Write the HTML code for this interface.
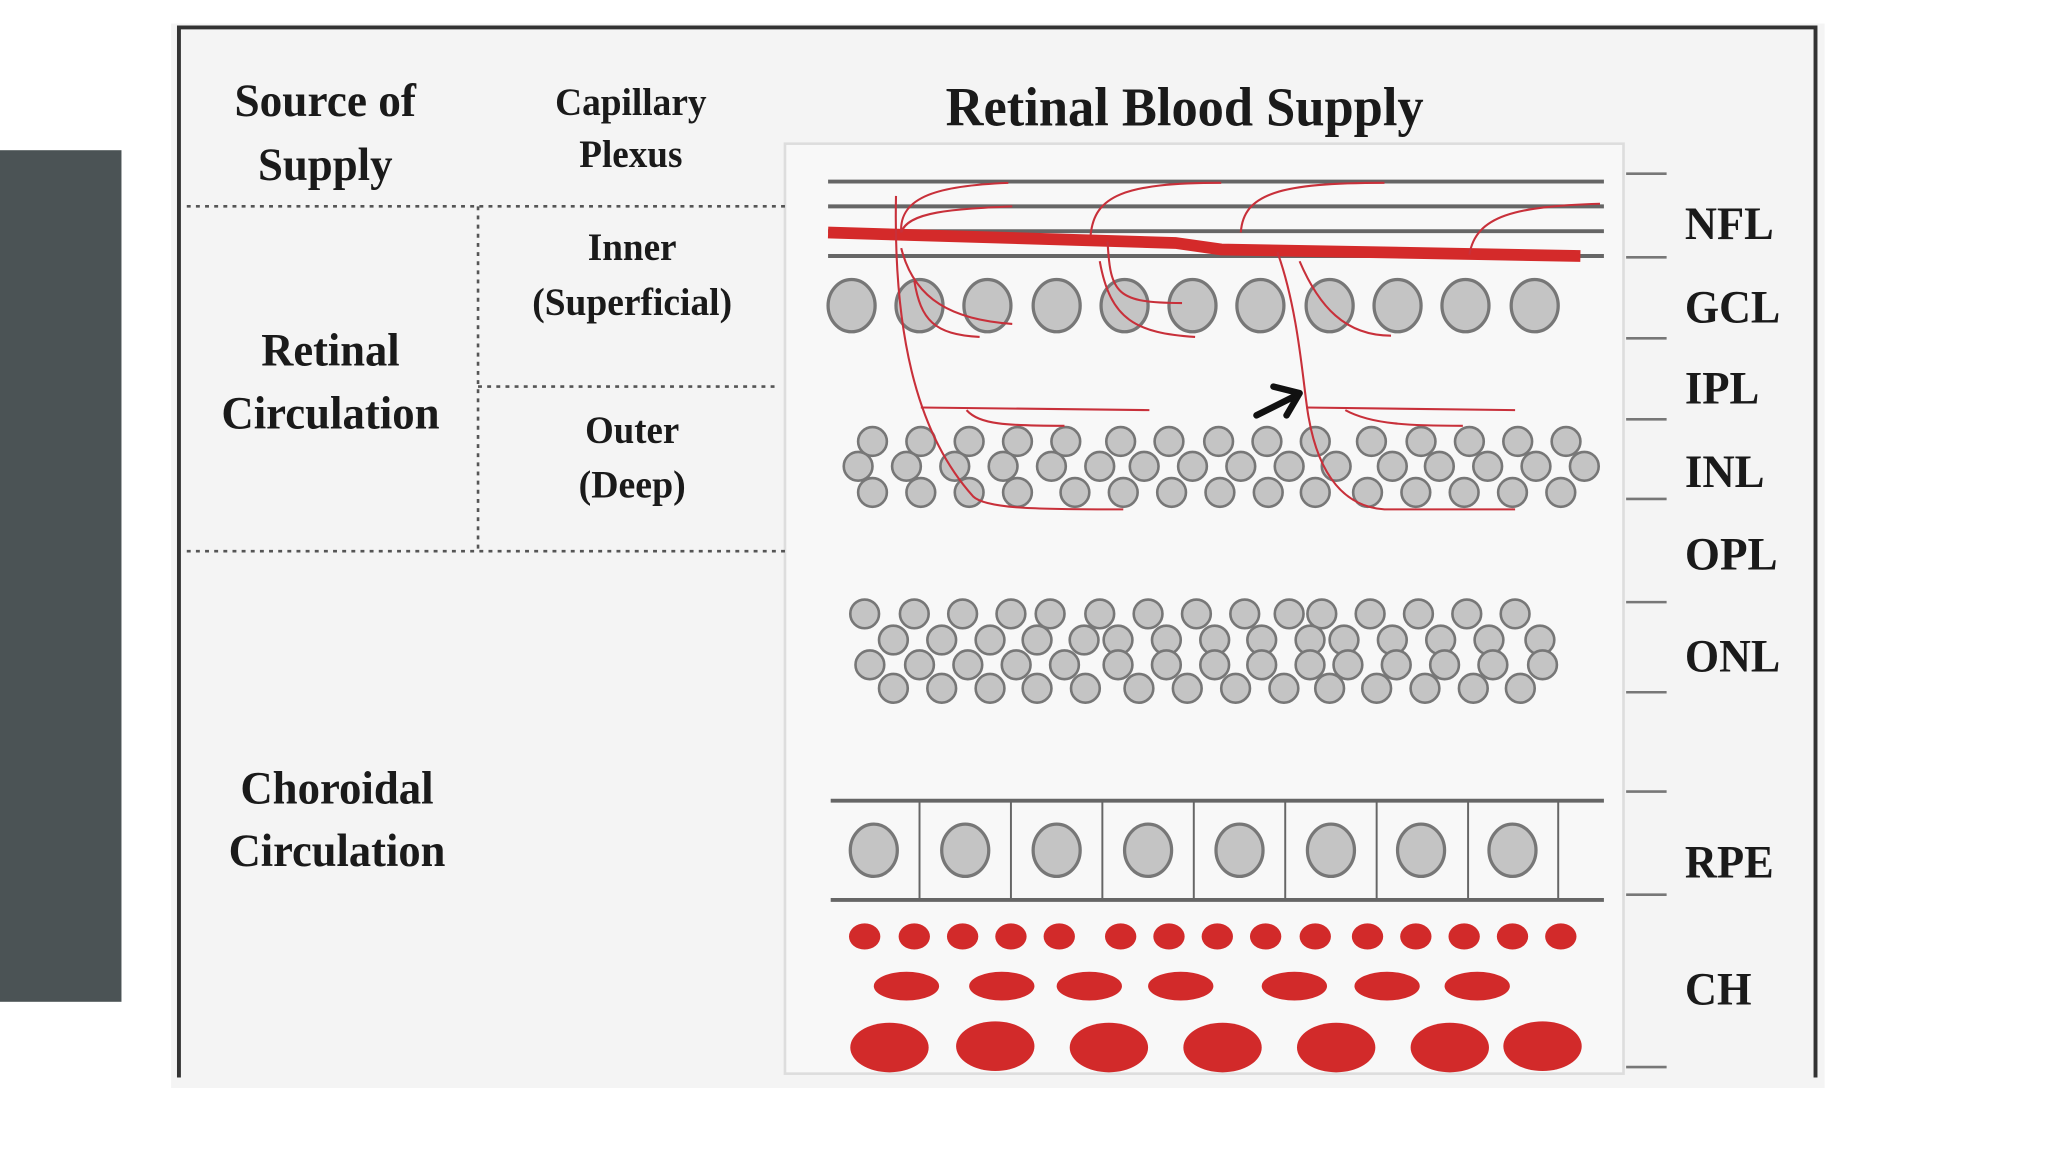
<!DOCTYPE html>
<html><head><meta charset="utf-8"><style>
html,body{margin:0;padding:0;background:#fff;width:2048px;height:1152px;overflow:hidden}
svg{display:block}
text{font-family:"Liberation Serif",serif;font-weight:bold;fill:#1a1a1a}
</style></head><body>
<svg width="2048" height="1152" viewBox="0 0 1568 882" preserveAspectRatio="none">
<rect x="0" y="0" width="1568" height="882" fill="#fff"/>
<rect x="0" y="115" width="93" height="652" fill="#4b5355"/>
<rect x="131" y="18" width="1266" height="815" fill="#f4f4f4"/>
<path d="M137,825 L137,21 L1390,21 L1390,825" fill="none" stroke="#333" stroke-width="3"/>
<rect x="601" y="110" width="642" height="712" fill="#f8f8f8" stroke="#ddd" stroke-width="2"/>
<g stroke="#555" stroke-width="2" stroke-dasharray="3,4" fill="none">
<line x1="143" y1="158" x2="601" y2="158"/><line x1="366" y1="158" x2="366" y2="422"/>
<line x1="366" y1="296" x2="597" y2="296"/><line x1="143" y1="422" x2="601" y2="422"/>
</g>
<g text-anchor="middle" font-size="36">
<text x="249" y="89" textLength="139" lengthAdjust="spacingAndGlyphs">Source of</text>
<text x="249" y="138" textLength="103" lengthAdjust="spacingAndGlyphs">Supply</text>
<text x="253" y="280" textLength="106" lengthAdjust="spacingAndGlyphs">Retinal</text>
<text x="253" y="328" textLength="167" lengthAdjust="spacingAndGlyphs">Circulation</text>
<text x="258" y="615" textLength="148" lengthAdjust="spacingAndGlyphs">Choroidal</text>
<text x="258" y="663" textLength="166" lengthAdjust="spacingAndGlyphs">Circulation</text>
</g>
<g text-anchor="middle" font-size="30">
<text x="483" y="88" textLength="116" lengthAdjust="spacingAndGlyphs">Capillary</text>
<text x="483" y="128" textLength="79" lengthAdjust="spacingAndGlyphs">Plexus</text>
<text x="484" y="199" textLength="68" lengthAdjust="spacingAndGlyphs">Inner</text>
<text x="484" y="241" textLength="153" lengthAdjust="spacingAndGlyphs">(Superficial)</text>
<text x="484" y="339" textLength="72" lengthAdjust="spacingAndGlyphs">Outer</text>
<text x="484" y="381" textLength="82" lengthAdjust="spacingAndGlyphs">(Deep)</text>
</g>
<text x="907" y="96" text-anchor="middle" font-size="42" textLength="366" lengthAdjust="spacingAndGlyphs">Retinal Blood Supply</text>
<g font-size="36">
<text x="1290" y="183" textLength="68" lengthAdjust="spacingAndGlyphs">NFL</text>
<text x="1290" y="247" textLength="73" lengthAdjust="spacingAndGlyphs">GCL</text>
<text x="1290" y="309" textLength="57" lengthAdjust="spacingAndGlyphs">IPL</text>
<text x="1290" y="373" textLength="61" lengthAdjust="spacingAndGlyphs">INL</text>
<text x="1290" y="436" textLength="71" lengthAdjust="spacingAndGlyphs">OPL</text>
<text x="1290" y="514" textLength="73" lengthAdjust="spacingAndGlyphs">ONL</text>
<text x="1290" y="672" textLength="68" lengthAdjust="spacingAndGlyphs">RPE</text>
<text x="1290" y="769" textLength="51" lengthAdjust="spacingAndGlyphs">CH</text>
</g>
<g stroke="#777" stroke-width="2">
<line x1="1245" y1="133" x2="1276" y2="133"/><line x1="1245" y1="197" x2="1276" y2="197"/>
<line x1="1245" y1="259" x2="1276" y2="259"/><line x1="1245" y1="321" x2="1276" y2="321"/>
<line x1="1245" y1="382" x2="1276" y2="382"/><line x1="1245" y1="461" x2="1276" y2="461"/>
<line x1="1245" y1="530" x2="1276" y2="530"/><line x1="1245" y1="606" x2="1276" y2="606"/>
<line x1="1245" y1="685" x2="1276" y2="685"/><line x1="1245" y1="817" x2="1276" y2="817"/>
</g>
<g stroke="#666" stroke-width="3">
<line x1="634" y1="139" x2="1228" y2="139"/><line x1="634" y1="158" x2="1228" y2="158"/>
<line x1="634" y1="177" x2="1228" y2="177"/><line x1="634" y1="196" x2="1228" y2="196"/>
</g>
<path d="M634,178 L900,186 L935,191 L1210,196" fill="none" stroke="#d42a2a" stroke-width="9"/>
<g fill="#c4c4c4" stroke="#777" stroke-width="2.5">
<ellipse cx="652" cy="234" rx="18" ry="20"/><ellipse cx="704" cy="234" rx="18" ry="20"/><ellipse cx="756" cy="234" rx="18" ry="20"/><ellipse cx="809" cy="234" rx="18" ry="20"/><ellipse cx="861" cy="234" rx="18" ry="20"/><ellipse cx="913" cy="234" rx="18" ry="20"/><ellipse cx="965" cy="234" rx="18" ry="20"/><ellipse cx="1018" cy="234" rx="18" ry="20"/><ellipse cx="1070" cy="234" rx="18" ry="20"/><ellipse cx="1122" cy="234" rx="18" ry="20"/><ellipse cx="1175" cy="234" rx="18" ry="20"/>
</g>
<g fill="#c4c4c4" stroke="#777" stroke-width="2">
<circle cx="668" cy="338" r="11"/><circle cx="705" cy="338" r="11"/><circle cx="742" cy="338" r="11"/><circle cx="779" cy="338" r="11"/><circle cx="816" cy="338" r="11"/><circle cx="858" cy="338" r="11"/><circle cx="895" cy="338" r="11"/><circle cx="933" cy="338" r="11"/><circle cx="970" cy="338" r="11"/><circle cx="1007" cy="338" r="11"/><circle cx="1050" cy="338" r="11"/><circle cx="1088" cy="338" r="11"/><circle cx="1125" cy="338" r="11"/><circle cx="1162" cy="338" r="11"/><circle cx="1199" cy="338" r="11"/>
<circle cx="657" cy="357" r="11"/><circle cx="694" cy="357" r="11"/><circle cx="731" cy="357" r="11"/><circle cx="768" cy="357" r="11"/><circle cx="805" cy="357" r="11"/><circle cx="842" cy="357" r="11"/><circle cx="876" cy="357" r="11"/><circle cx="913" cy="357" r="11"/><circle cx="950" cy="357" r="11"/><circle cx="987" cy="357" r="11"/><circle cx="1023" cy="357" r="11"/><circle cx="1066" cy="357" r="11"/><circle cx="1102" cy="357" r="11"/><circle cx="1139" cy="357" r="11"/><circle cx="1176" cy="357" r="11"/><circle cx="1213" cy="357" r="11"/>
<circle cx="668" cy="377" r="11"/><circle cx="705" cy="377" r="11"/><circle cx="742" cy="377" r="11"/><circle cx="779" cy="377" r="11"/><circle cx="823" cy="377" r="11"/><circle cx="860" cy="377" r="11"/><circle cx="897" cy="377" r="11"/><circle cx="934" cy="377" r="11"/><circle cx="971" cy="377" r="11"/><circle cx="1007" cy="377" r="11"/><circle cx="1047" cy="377" r="11"/><circle cx="1084" cy="377" r="11"/><circle cx="1121" cy="377" r="11"/><circle cx="1158" cy="377" r="11"/><circle cx="1195" cy="377" r="11"/>
<circle cx="662" cy="470" r="11"/><circle cx="700" cy="470" r="11"/><circle cx="737" cy="470" r="11"/><circle cx="774" cy="470" r="11"/><circle cx="804" cy="470" r="11"/><circle cx="842" cy="470" r="11"/><circle cx="879" cy="470" r="11"/><circle cx="916" cy="470" r="11"/><circle cx="953" cy="470" r="11"/><circle cx="987" cy="470" r="11"/><circle cx="1012" cy="470" r="11"/><circle cx="1049" cy="470" r="11"/><circle cx="1086" cy="470" r="11"/><circle cx="1123" cy="470" r="11"/><circle cx="1160" cy="470" r="11"/>
<circle cx="684" cy="490" r="11"/><circle cx="721" cy="490" r="11"/><circle cx="758" cy="490" r="11"/><circle cx="794" cy="490" r="11"/><circle cx="830" cy="490" r="11"/><circle cx="856" cy="490" r="11"/><circle cx="893" cy="490" r="11"/><circle cx="930" cy="490" r="11"/><circle cx="966" cy="490" r="11"/><circle cx="1003" cy="490" r="11"/><circle cx="1029" cy="490" r="11"/><circle cx="1066" cy="490" r="11"/><circle cx="1103" cy="490" r="11"/><circle cx="1140" cy="490" r="11"/><circle cx="1179" cy="490" r="11"/>
<circle cx="666" cy="509" r="11"/><circle cx="704" cy="509" r="11"/><circle cx="741" cy="509" r="11"/><circle cx="778" cy="509" r="11"/><circle cx="815" cy="509" r="11"/><circle cx="856" cy="509" r="11"/><circle cx="893" cy="509" r="11"/><circle cx="930" cy="509" r="11"/><circle cx="966" cy="509" r="11"/><circle cx="1003" cy="509" r="11"/><circle cx="1032" cy="509" r="11"/><circle cx="1069" cy="509" r="11"/><circle cx="1106" cy="509" r="11"/><circle cx="1143" cy="509" r="11"/><circle cx="1181" cy="509" r="11"/>
<circle cx="684" cy="527" r="11"/><circle cx="721" cy="527" r="11"/><circle cx="758" cy="527" r="11"/><circle cx="794" cy="527" r="11"/><circle cx="831" cy="527" r="11"/><circle cx="872" cy="527" r="11"/><circle cx="909" cy="527" r="11"/><circle cx="946" cy="527" r="11"/><circle cx="983" cy="527" r="11"/><circle cx="1018" cy="527" r="11"/><circle cx="1054" cy="527" r="11"/><circle cx="1091" cy="527" r="11"/><circle cx="1128" cy="527" r="11"/><circle cx="1164" cy="527" r="11"/>
</g>
<g fill="none" stroke="#c8303a" stroke-width="1.6">
<path d="M690,178 C688,150 720,142 772,140"/>
<path d="M690,178 C695,162 730,160 775,158"/>
<path d="M686,150 C684,250 700,330 745,380 C755,390 800,390 860,390"/>
<path d="M690,190 C700,230 730,245 775,248"/>
<path d="M700,215 C705,245 715,256 750,258"/>
<path d="M835,180 C838,150 860,140 935,140"/>
<path d="M848,185 C850,225 855,232 905,232"/>
<path d="M842,200 C850,245 870,255 915,258"/>
<path d="M950,178 C952,148 980,140 1060,140"/>
<path d="M978,193 C995,240 998,300 1002,320 C1010,365 1030,388 1060,390 L1160,390"/>
<path d="M995,200 C1010,235 1030,257 1065,257"/>
<path d="M1125,195 C1130,165 1160,158 1225,156"/>
<path d="M705,312 L880,314"/><path d="M740,314 C750,325 770,326 815,326"/>
<path d="M1000,312 L1160,314"/><path d="M1030,314 C1050,325 1080,326 1120,326"/>
</g>
<g fill="none" stroke="#111" stroke-width="5" stroke-linecap="round" stroke-linejoin="round">
<path d="M962,318 L994,302"/><path d="M975,296 L995,301 L985,318"/>
</g>
<g stroke="#666" stroke-width="3"><line x1="636" y1="613" x2="1228" y2="613"/><line x1="636" y1="689" x2="1228" y2="689"/></g>
<g stroke="#666" stroke-width="1.5">
<line x1="704" y1="613" x2="704" y2="689"/><line x1="774" y1="613" x2="774" y2="689"/><line x1="844" y1="613" x2="844" y2="689"/><line x1="914" y1="613" x2="914" y2="689"/><line x1="984" y1="613" x2="984" y2="689"/><line x1="1054" y1="613" x2="1054" y2="689"/><line x1="1124" y1="613" x2="1124" y2="689"/><line x1="1193" y1="613" x2="1193" y2="689"/>
</g>
<g fill="#c4c4c4" stroke="#777" stroke-width="2.5">
<ellipse cx="669" cy="651" rx="18" ry="20"/><ellipse cx="739" cy="651" rx="18" ry="20"/><ellipse cx="809" cy="651" rx="18" ry="20"/><ellipse cx="879" cy="651" rx="18" ry="20"/><ellipse cx="949" cy="651" rx="18" ry="20"/><ellipse cx="1019" cy="651" rx="18" ry="20"/><ellipse cx="1088" cy="651" rx="18" ry="20"/><ellipse cx="1158" cy="651" rx="18" ry="20"/>
</g>
<g fill="#d22a2a">
<ellipse cx="662" cy="717" rx="12" ry="10"/><ellipse cx="700" cy="717" rx="12" ry="10"/><ellipse cx="737" cy="717" rx="12" ry="10"/><ellipse cx="774" cy="717" rx="12" ry="10"/><ellipse cx="811" cy="717" rx="12" ry="10"/><ellipse cx="858" cy="717" rx="12" ry="10"/><ellipse cx="895" cy="717" rx="12" ry="10"/><ellipse cx="932" cy="717" rx="12" ry="10"/><ellipse cx="969" cy="717" rx="12" ry="10"/><ellipse cx="1007" cy="717" rx="12" ry="10"/><ellipse cx="1047" cy="717" rx="12" ry="10"/><ellipse cx="1084" cy="717" rx="12" ry="10"/><ellipse cx="1121" cy="717" rx="12" ry="10"/><ellipse cx="1158" cy="717" rx="12" ry="10"/><ellipse cx="1195" cy="717" rx="12" ry="10"/>
<ellipse cx="694" cy="755" rx="25" ry="11"/><ellipse cx="767" cy="755" rx="25" ry="11"/><ellipse cx="834" cy="755" rx="25" ry="11"/><ellipse cx="904" cy="755" rx="25" ry="11"/><ellipse cx="991" cy="755" rx="25" ry="11"/><ellipse cx="1062" cy="755" rx="25" ry="11"/><ellipse cx="1131" cy="755" rx="25" ry="11"/>
<ellipse cx="681" cy="802" rx="30" ry="19"/><ellipse cx="762" cy="801" rx="30" ry="19"/><ellipse cx="849" cy="802" rx="30" ry="19"/><ellipse cx="936" cy="802" rx="30" ry="19"/><ellipse cx="1023" cy="802" rx="30" ry="19"/><ellipse cx="1110" cy="802" rx="30" ry="19"/><ellipse cx="1181" cy="801" rx="30" ry="19"/>
</g>
</svg>
</body></html>
